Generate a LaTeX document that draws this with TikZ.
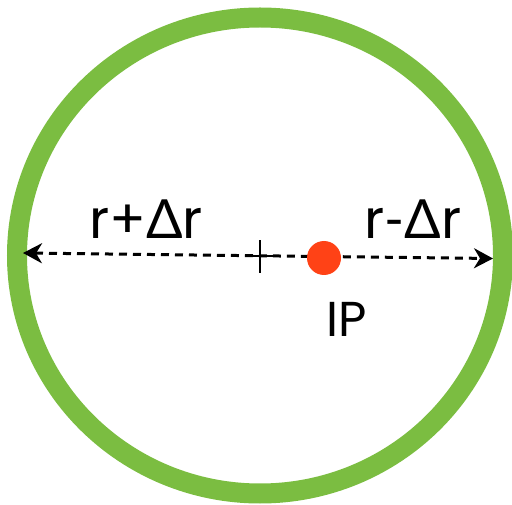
\documentclass[tikz,border=0pt]{standalone}
\usepackage{fontspec}
\setmainfont{Poppins}
\newfontfamily\grk{Lato}
\usetikzlibrary{arrows.meta}
\definecolor{ringgreen}{HTML}{7BBD41}
\definecolor{dotred}{HTML}{FF4216}
\tikzset{
  ring/.style={draw=ringgreen, line width=20pt},
  measure/.style={draw=black, line width=3pt, dash pattern=on 8pt off 6pt,
    {Stealth[length=19pt,width=20pt,inset=6pt]}-{Stealth[length=19pt,width=20pt,inset=6pt]}},
  lbl/.style={anchor=base, inner sep=0pt, font=\fontsize{54}{54}\selectfont},
  iplbl/.style={anchor=base, inner sep=0pt, font=\fontsize{49}{49}\selectfont},
  ipdot/.style={circle, fill=dotred, minimum size=34pt, inner sep=0pt},
  crossbar/.style={draw=black, line width=2pt}
}
\begin{document}
\begin{tikzpicture}[x=1pt,y=-1pt]
\useasboundingbox (0,0) rectangle (512,505);
\coordinate (ctr) at (260,255.5);
\draw[ring] (ctr) ellipse [x radius=243, y radius=238];
\coordinate (L) at (23,253);
\coordinate (R) at (493,258.5);
\draw[measure] (L) -- (R);
\coordinate (cr) at (260,256);
\draw[crossbar] ([yshift=-17pt]cr) -- ([yshift=16pt]cr);
\draw[crossbar] ([xshift=-14pt]cr) -- ([xshift=14pt]cr);
\node[ipdot] (ip) at (324,258) {};
\node[lbl] (lp) at (146,239) {r+{\grk Δ}r};
\node[lbl] (lm) at (413,239) {r{\grk -Δ}r};
\node[iplbl] (iplab) at (347,337) {IP};
\end{tikzpicture}
\end{document}
